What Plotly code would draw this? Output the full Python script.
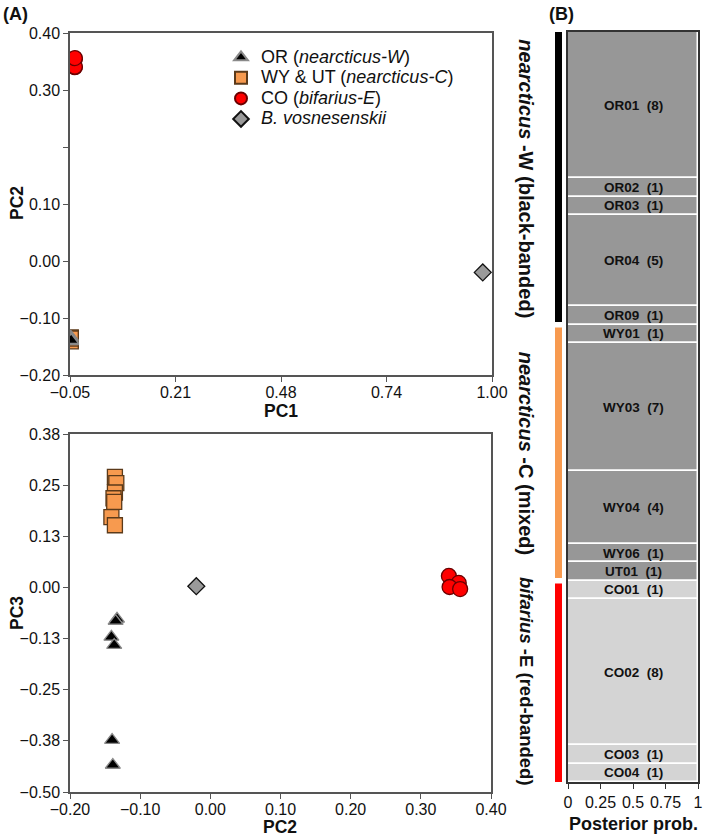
import plotly.graph_objects as go

FONT = "Liberation Sans, Arial, sans-serif"

# ---------------- data ----------------
# Panel A, top: PC1 vs PC2 ; bottom: PC2 vs PC3
or_pc1 = [-0.048, -0.048, -0.047, -0.048, -0.048, -0.047]
or_pc2 = [-0.133, -0.135, -0.141, -0.137, -0.140, -0.139]
or_pc3 = [-0.077, -0.082, -0.121, -0.141, -0.373, -0.434]

wy_pc1 = [-0.048, -0.048, -0.048, -0.048, -0.048, -0.048, -0.048]
wy_pc2 = [-0.136, -0.134, -0.136, -0.138, -0.137, -0.141, -0.136]
wy_pc3 = [0.270, 0.255, 0.232, 0.218, 0.209, 0.172, 0.152]

co_pc1 = [-0.038, -0.038, -0.038, -0.038]
co_pc2 = [0.340, 0.354, 0.341, 0.356]
co_pc3 = [0.028, 0.011, 0.001, -0.004]

vos_pc1 = [0.977]
vos_pc2 = [-0.020]
vos_pc3 = [0.003]

top_x_ticks = [-0.05, 0.2125, 0.475, 0.7375, 1.00]
top_x_labels = ["\u22120.05", "0.21", "0.48", "0.74", "1.00"]
top_y_ticks = [-0.20, -0.10, 0.00, 0.10, 0.20, 0.30, 0.40]
top_y_labels = ["\u22120.20", "\u22120.10", "0.00", "0.10", "", "0.30", "0.40"]

bot_x_ticks = [-0.20, -0.10, 0.00, 0.10, 0.20, 0.30, 0.40]
bot_x_labels = ["\u22120.20", "\u22120.10", "0.00", "0.10", "0.20", "0.30", "0.40"]
bot_y_ticks = [-0.5, -0.375, -0.25, -0.125, 0.0, 0.125, 0.25, 0.375]
bot_y_labels = ["\u22120.50", "\u22120.38", "\u22120.25", "\u22120.13", "0.00", "0.13", "0.25", "0.38"]

# Panel B: haplotypes (top to bottom) with counts, posterior probability
hap_names = ["OR01", "OR02", "OR03", "OR04", "OR09", "WY01", "WY03", "WY04",
             "WY06", "UT01", "CO01", "CO02", "CO03", "CO04"]
hap_counts = [8, 1, 1, 5, 1, 1, 7, 4, 1, 1, 1, 8, 1, 1]
hap_cluster = ["dark"] * 10 + ["light"] * 4
hap_prob = [1] * 14
group_labels = ["<b><i>nearcticus</i> -W (black-banded)</b>",
                "<b><i>nearcticus</i> -C (mixed)</b>",
                "<b><i>bifarius</i> -E (red-banded)</b>"]
group_sizes = [16, 14, 11]
group_colors = ["#000000", "#f79a4f", "#ff0000"]
group_font = [20, 20, 18.5]

# ---------------- styles ----------------
C_TRI, C_TRI_L = "#000000", "#8a8a8a"
C_SQ, C_SQ_L = "#f79a4f", "#5b3a1a"
C_CI, C_CI_L = "#ff0000", "#6a0000"
C_DI, C_DI_L = "#9a9a9a", "#111111"
AX = "#555555"
TXT = "#111111"

fig = go.Figure()

def lg(s):
    return f"<span style='font-size:18px'>{s}</span>"

def add_pts(x, y, xa, ya, name, symbol, size, color, line, show, rank):
    fig.add_trace(go.Scatter(
        x=x, y=y, xaxis=xa, yaxis=ya, mode="markers", name=name,
        showlegend=show, legendrank=rank,
        marker=dict(symbol=symbol, size=size, color=color,
                    line=dict(color=line, width=1.3))))

# top plot
add_pts(wy_pc1, wy_pc2, "x", "y", lg("WY &amp; UT (<i>nearcticus-C</i>)"), "square", 15, C_SQ, C_SQ_L, True, 2)
add_pts(or_pc1, or_pc2, "x", "y", lg("OR (<i>nearcticus-W</i>)"), "triangle-up", 13, C_TRI, C_TRI_L, True, 1)
add_pts(co_pc1, co_pc2, "x", "y", lg("CO (<i>bifarius-E</i>)"), "circle", 15, C_CI, C_CI_L, True, 3)
add_pts(vos_pc1, vos_pc2, "x", "y", lg("<i>B. vosnesenskii</i>"), "diamond", 13, C_DI, C_DI_L, True, 4)
# bottom plot
add_pts(wy_pc2, wy_pc3, "x2", "y2", "WY", "square", 15, C_SQ, C_SQ_L, False, 10)
add_pts(or_pc2, or_pc3, "x2", "y2", "OR", "triangle-up", 13, C_TRI, C_TRI_L, False, 10)
add_pts(co_pc2, co_pc3, "x2", "y2", "CO", "circle", 15, C_CI, C_CI_L, False, 10)
add_pts(vos_pc2, vos_pc3, "x2", "y2", "vos", "diamond", 13, C_DI, C_DI_L, False, 10)

# panel B bars
centers, acc = [], 0
for c in hap_counts:
    centers.append(acc + c / 2)
    acc += c
total = acc
bar_cols = ["#979797" if k == "dark" else "#d4d4d4" for k in hap_cluster]
fig.add_trace(go.Bar(
    x=hap_prob, y=centers, width=hap_counts, orientation="h",
    xaxis="x3", yaxis="y3", showlegend=False, hoverinfo="skip",
    marker=dict(color=bar_cols, line=dict(color="white", width=1.5))))

shapes, annotations = [], []
for n, c, yc in zip(hap_names, hap_counts, centers):
    annotations.append(dict(xref="x3", yref="y3", x=0.5, y=yc,
                            text=f"<b>{n}  ({c})</b>", showarrow=False,
                            font=dict(family=FONT, size=13.5, color=TXT)))

# group colour bars + labels
g0 = 0
for i, (sz, col, lab, fs) in enumerate(zip(group_sizes, group_colors, group_labels, group_font)):
    y0 = g0 + (0.15 if i > 0 else 0)
    y1 = g0 + sz - (0.15 if i < len(group_sizes) - 1 else 0)
    shapes.append(dict(type="rect", xref="paper", yref="y3",
                       x0=555 / 709, x1=562 / 709, y0=y0, y1=y1,
                       fillcolor=col, line=dict(width=0)))
    annotations.append(dict(xref="paper", yref="y3", x=539 / 709, y=g0 + sz / 2,
                            text=lab, textangle=90, showarrow=False,
                            font=dict(family=FONT, size=fs, color=TXT)))
    g0 += sz

def pa(x, y, text, size, angle=0, xanchor="center"):
    annotations.append(dict(xref="paper", yref="paper", x=x / 709, y=1 - y / 836,
                            xanchor=xanchor, yanchor="middle", text=text,
                            textangle=angle, showarrow=False,
                            font=dict(family=FONT, size=size, color=TXT)))

pa(1, 14, "<b>(A)</b>", 18, xanchor="left")
pa(547, 14, "<b>(B)</b>", 18, xanchor="left")
pa(281, 411, "<b>PC1</b>", 17.5)
pa(280, 827, "<b>PC2</b>", 17.5)
pa(17, 203, "<b>PC2</b>", 17.5, angle=-90)
pa(17, 613, "<b>PC3</b>", 17.5, angle=-90)
pa(633, 824, "<b>Posterior prob.</b>", 18)

tickfont = dict(family=FONT, size=16, color=TXT)

def axis(domain, rng, tv, tt, anchor, lso=0):
    return dict(domain=domain, range=rng, tickvals=tv, ticktext=tt,
                showgrid=False, zeroline=False, showline=True, linecolor=AX,
                linewidth=1.5, mirror=True, ticks="outside", ticklen=5,
                tickwidth=1.3, tickcolor=AX, tickfont=tickfont, anchor=anchor,
                ticklabelstandoff=lso)

fig.update_layout(
    width=709, height=836, margin=dict(l=0, r=0, t=0, b=0, autoexpand=False),
    paper_bgcolor="white", plot_bgcolor="white",
    font=dict(family=FONT, color=TXT),
    xaxis=axis([70 / 709, 492 / 709], [-0.05, 1.0], top_x_ticks, top_x_labels, "y", -3),
    yaxis=axis([1 - 375 / 836, 1 - 33 / 836], [-0.20, 0.40], top_y_ticks, top_y_labels, "x"),
    xaxis2=axis([70 / 709, 491 / 709], [-0.20, 0.40], bot_x_ticks, bot_x_labels, "y2", -3),
    yaxis2=axis([1 - 792 / 836, 1 - 434 / 836], [-0.5, 0.375], bot_y_ticks, bot_y_labels, "x2"),
    xaxis3=dict(domain=[568 / 709, 698 / 709], range=[0, 1], tickvals=[0, 0.25, 0.5, 0.75, 1],
                ticktext=["0", "0.25", "0.5", "0.75", "1"], showgrid=False, zeroline=False,
                showline=True, linecolor="#333333", linewidth=1.5, mirror=True,
                ticks="outside", ticklen=5, tickcolor="#333333", tickfont=tickfont,
                anchor="y3"),
    yaxis3=dict(domain=[1 - 782 / 836, 1 - 32 / 836], range=[total, 0], showgrid=False,
                zeroline=False, showticklabels=False, ticks="", showline=True,
                linecolor="#333333", linewidth=1.5, mirror=True, anchor="x3"),
    bargap=0,
    hovermode=False,
    legend=dict(x=221 / 709, y=1 - 42 / 836, xanchor="left", yanchor="top",
                font=dict(family=FONT, size=13.5, color=TXT),
                bgcolor="rgba(0,0,0,0)", itemsizing="constant", tracegroupgap=0),
    shapes=shapes, annotations=annotations,
)

fig.write_html("out.html", config={"displayModeBar": False},
               post_script="document.body.style.margin='0';document.body.style.overflow='hidden';")
